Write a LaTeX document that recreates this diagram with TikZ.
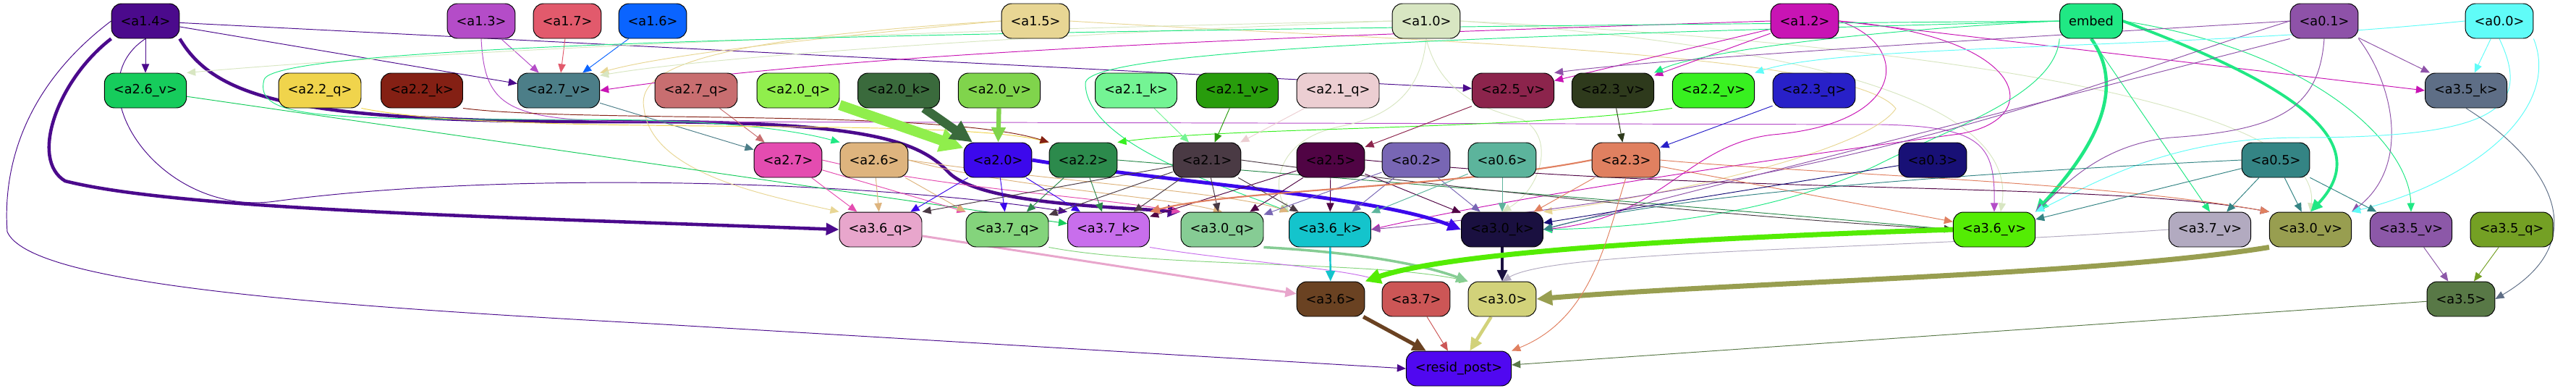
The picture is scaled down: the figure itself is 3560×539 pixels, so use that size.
\documentclass[tikz,border=0pt]{standalone}
\usepackage{fontspec}
\setmainfont{DejaVu Sans}
\usepackage{tikz}
\usetikzlibrary{arrows.meta}
\pgfdeclarelayer{edges}
\pgfsetlayers{edges,main}

\definecolor{c14}{HTML}{4B0A8C}
\definecolor{c13}{HTML}{B44CC8}
\definecolor{c17}{HTML}{E25A6C}
\definecolor{c16}{HTML}{0A64FF}
\definecolor{c15}{HTML}{E8D694}
\definecolor{c10}{HTML}{D8E6C2}
\definecolor{c12}{HTML}{C814B4}
\definecolor{cem}{HTML}{20E884}
\definecolor{c01}{HTML}{8E52A8}
\definecolor{c00}{HTML}{60FCF8}
\definecolor{c26v}{HTML}{16CC5C}
\definecolor{c22q}{HTML}{F0D44C}
\definecolor{c22k}{HTML}{842014}
\definecolor{c27v}{HTML}{4C7E88}
\definecolor{c27q}{HTML}{C86E70}
\definecolor{c20q}{HTML}{90EE4C}
\definecolor{c20k}{HTML}{3A6A3C}
\definecolor{c20v}{HTML}{80D44C}
\definecolor{c21k}{HTML}{74F494}
\definecolor{c21v}{HTML}{289C0C}
\definecolor{c21q}{HTML}{ECCED2}
\definecolor{c25v}{HTML}{8C244C}
\definecolor{c23v}{HTML}{2E3A1C}
\definecolor{c22v}{HTML}{38F020}
\definecolor{c23q}{HTML}{2820C8}
\definecolor{c35k}{HTML}{5E6E86}
\definecolor{c27}{HTML}{E44CB0}
\definecolor{c26}{HTML}{DEB47E}
\definecolor{c20}{HTML}{3C08EC}
\definecolor{c22}{HTML}{2C8A4C}
\definecolor{c21}{HTML}{4A3A44}
\definecolor{c25}{HTML}{500444}
\definecolor{c02}{HTML}{7866B4}
\definecolor{c06}{HTML}{5CB49C}
\definecolor{c23}{HTML}{E08060}
\definecolor{c03}{HTML}{181076}
\definecolor{c05}{HTML}{348484}
\definecolor{c36q}{HTML}{E8A6CC}
\definecolor{c37q}{HTML}{84D47C}
\definecolor{c37k}{HTML}{C86EEC}
\definecolor{c30q}{HTML}{86CC94}
\definecolor{c36k}{HTML}{14C4CC}
\definecolor{c30k}{HTML}{1A1040}
\definecolor{c36v}{HTML}{54EC04}
\definecolor{c37v}{HTML}{B2AAC0}
\definecolor{c30v}{HTML}{989E50}
\definecolor{c35v}{HTML}{8C58A8}
\definecolor{c35q}{HTML}{74A024}
\definecolor{c36}{HTML}{6A4222}
\definecolor{c37}{HTML}{CC5656}
\definecolor{c30}{HTML}{D2D27A}
\definecolor{c35}{HTML}{587846}
\definecolor{cres}{HTML}{5008F0}

\begin{document}
\begin{tikzpicture}[x=0.02cm, y=-0.02cm,
    tok/.style={draw, rounded corners=0.28cm, font=\fontsize{10.1}{12}\selectfont,
      minimum height=0.96cm, inner xsep=0.25cm, line width=0.55pt, text=black},
    arr/.style={-{Triangle[length=6pt 1.6, width=5pt 1.6]}, line width=0.55pt},
  ]
    \useasboundingbox (0,0) rectangle (3560,539);

    % Level 1
    \node[tok, fill=c14] (a14) at (201, 29) {<a1.4>};
    \node[tok, fill=c13] (a13) at (665, 29) {<a1.3>};
    \node[tok, fill=c17] (a17) at (784, 29) {<a1.7>};
    \node[tok, fill=c16] (a16) at (902, 29) {<a1.6>};
    \node[tok, fill=c15] (a15) at (1431, 29) {<a1.5>};
    \node[tok, fill=c10] (a10) at (1971, 29) {<a1.0>};
    \node[tok, fill=c12] (a12) at (2494, 29) {<a1.2>};
    \node[tok, fill=cem] (emb) at (2890, 29) {embed};
    \node[tok, fill=c01] (a01) at (3212, 29) {<a0.1>};
    \node[tok, fill=c00] (a00) at (3454, 29) {<a0.0>};

    % Level 2
    \node[tok, fill=c26v] (a26v) at (201, 125) {<a2.6\_v>};
    \node[tok, fill=c22q] (a22q) at (442, 125) {<a2.2\_q>};
    \node[tok, fill=c22k] (a22k) at (583, 125) {<a2.2\_k>};
    \node[tok, fill=c27v] (a27v) at (772, 125) {<a2.7\_v>};
    \node[tok, fill=c27q] (a27q) at (962, 125) {<a2.7\_q>};
    \node[tok, fill=c20q] (a20q) at (1103, 125) {<a2.0\_q>};
    \node[tok, fill=c20k] (a20k) at (1242, 125) {<a2.0\_k>};
    \node[tok, fill=c20v] (a20v) at (1381, 125) {<a2.0\_v>};
    \node[tok, fill=c21k] (a21k) at (1570, 125) {<a2.1\_k>};
    \node[tok, fill=c21v] (a21v) at (1710, 125) {<a2.1\_v>};
    \node[tok, fill=c21q] (a21q) at (1849, 125) {<a2.1\_q>};
    \node[tok, fill=c25v] (a25v) at (2091, 125) {<a2.5\_v>};
    \node[tok, fill=c23v] (a23v) at (2229, 125) {<a2.3\_v>};
    \node[tok, fill=c22v] (a22v) at (2368, 125) {<a2.2\_v>};
    \node[tok, fill=c23q] (a23q) at (2507, 125) {<a2.3\_q>};
    \node[tok, fill=c35k] (a35k) at (3408, 125) {<a3.5\_k>};

    % Level 3
    \node[tok, fill=c27] (a27) at (1089, 221) {<a2.7>};
    \node[tok, fill=c26] (a26) at (1208, 221) {<a2.6>};
    \node[tok, fill=c20] (a20) at (1379, 221) {<a2.0>};
    \node[tok, fill=c22] (a22) at (1497, 221) {<a2.2>};
    \node[tok, fill=c21] (a21) at (1668, 221) {<a2.1>};
    \node[tok, fill=c25] (a25) at (1839, 221) {<a2.5>};
    \node[tok, fill=c02] (a02) at (1957, 221) {<a0.2>};
    \node[tok, fill=c06] (a06) at (2076, 221) {<a0.6>};
    \node[tok, fill=c23] (a23) at (2247, 221) {<a2.3>};
    \node[tok, fill=c03] (a03) at (2671, 221) {<a0.3>};
    \node[tok, fill=c05] (a05) at (3145, 221) {<a0.5>};

    % Level 4
    \node[tok, fill=c36q] (a36q) at (1217, 317) {<a3.6\_q>};
    \node[tok, fill=c37q] (a37q) at (1392, 317) {<a3.7\_q>};
    \node[tok, fill=c37k] (a37k) at (1532, 317) {<a3.7\_k>};
    \node[tok, fill=c30q] (a30q) at (1689, 317) {<a3.0\_q>};
    \node[tok, fill=c36k] (a36k) at (1838, 317) {<a3.6\_k>};
    \node[tok, fill=c30k] (a30k) at (2076, 317) {<a3.0\_k>};
    \node[tok, fill=c36v] (a36v) at (2756, 317) {<a3.6\_v>};
    \node[tok, fill=c37v] (a37v) at (3054, 317) {<a3.7\_v>};
    \node[tok, fill=c30v] (a30v) at (3193, 317) {<a3.0\_v>};
    \node[tok, fill=c35v] (a35v) at (3332, 317) {<a3.5\_v>};
    \node[tok, fill=c35q] (a35q) at (3471, 317) {<a3.5\_q>};

    % Level 5 and output
    \node[tok, fill=c36] (a36) at (1839, 413) {<a3.6>};
    \node[tok, fill=c37] (a37) at (1957, 413) {<a3.7>};
    \node[tok, fill=c30] (a30) at (2076, 413) {<a3.0>};
    \node[tok, fill=c35] (a35) at (3401, 413) {<a3.5>};
    \node[tok, fill=cres] (res) at (2016, 509) {<resid\_post>};

    \begin{pgfonlayer}{edges}
    % Arrows from level 1
    \draw[arr, c14] (a14) -- (a26v);
    \draw[arr, c14] (a14) -- (a27v);
    \draw[arr, c14] (a14) -- (a25v);
    \draw[arr, c14, line width=2.6pt] (a14.south east) .. controls (300,140) and (420,170) .. (880,168) .. controls (1200,168) and (1270,195) .. (1310,237) .. controls (1350,280) and (1520,285) .. (a30q.north west);
    \draw[arr, c14, line width=2.6pt] (a14.south west) .. controls (80,110) and (40,220) .. (90,250) .. controls (250,290) and (700,300) .. (a36q.west);
    \draw[arr, c14] (a14.south) .. controls (100,120) and (220,300) .. (380,278) .. controls (700,235) and (1200,250) .. (a37k.north west);
    \draw[arr, c14] (a14.west) .. controls (20,130) and (5,250) .. (10,320) .. controls (40,390) and (400,420) .. (900,447) -- (res.west);
    \draw[arr, c13] (a13) -- (a27v);
    \draw[arr, c17] (a17) -- (a27v);
    \draw[arr, c16] (a16) -- (a27v);
    \draw[arr, c13] (a13.south) .. controls (670,150) and (700,168) .. (900,168) -- (2600,172) .. controls (2740,175) and (2757,200) .. (a36v.north);
    \draw[arr, c15] (a15.west) .. controls (1150,50) and (920,75) .. (a27v.north east);
    \draw[arr, c15] (a15.west) .. controls (950,55) and (880,100) .. (890,150) .. controls (900,240) and (1060,270) .. (a36q.north west);
    \draw[arr, c15] (a15.east) .. controls (1900,55) and (2560,70) .. (2620,150) .. controls (2580,210) and (2300,270) .. (a30k.north east);
    \draw[arr, c10] (a10.west) .. controls (1300,40) and (600,70) .. (a26v.north east);
    \draw[arr, c10] (a10.west) .. controls (1500,45) and (1000,75) .. (a27v.20);
    \draw[arr, c10] (a10.south) .. controls (1965,120) and (1930,160) .. (1850,175) .. controls (1760,195) and (1760,260) .. (a36k.north west);
    \draw[arr, c10] (a10.south) .. controls (1990,130) and (2050,150) .. (2104,165) .. controls (2150,190) and (2130,260) .. (a30k.north);
    \draw[arr, c10] (a10.east) .. controls (2450,60) and (2790,130) .. (a36v.70);
    \draw[arr, c10] (a10.east) .. controls (2650,60) and (3210,140) .. (a30v.north);
    \draw[arr, c12] (a12) -- (a25v);
    \draw[arr, c12] (a12) -- (a23v);
    \draw[arr, c12] (a12.east) -- (a35k.west);
    \draw[arr, c12] (a12.west) .. controls (1800,50) and (1200,70) .. (a27v.east);
    \draw[arr, c12] (a12.east) .. controls (2640,60) and (2640,170) .. (2450,186) .. controls (2330,200) and (2300,300) .. (a30k.east);
    \draw[arr, c12] (a12.east) .. controls (2810,50) and (2830,170) .. (2700,186) .. controls (2450,220) and (2100,270) .. (a36k.east);
    \draw[arr, cem] (emb.west) .. controls (1500,40) and (380,55) .. (365,110) .. controls (350,165) and (450,165) .. (800,165) .. controls (1000,165) and (1100,180) .. (a26.north west);
    \draw[arr, cem] (emb.west) .. controls (2300,45) and (1500,60) .. (1500,115) .. controls (1500,200) and (1700,260) .. (a36k.north west);
    \draw[arr, cem] (emb.south west) .. controls (2840,130) and (2700,175) .. (2600,225) .. controls (2450,300) and (2250,315) .. (a30k.east);
    \draw[arr, cem] (emb.west) .. controls (2600,40) and (2350,70) .. (a23v.north east);
    \draw[arr, cem, line width=2.6pt] (emb.south) .. controls (2945,130) and (2880,220) .. (a36v.north east);
    \draw[arr, cem] (emb.south) -- (a37v.north);
    \draw[arr, cem, line width=2.2pt] (emb.east) .. controls (3150,110) and (3290,190) .. (a30v.north);
    \draw[arr, cem] (emb.east) .. controls (3200,70) and (3330,200) .. (a35v.north);
    \draw[arr, c01] (a01) -- (a35k);
    \draw[arr, c01] (a01.west) .. controls (2900,45) and (2300,80) .. (a25v.north east);
    \draw[arr, c01] (a01.south west) -- (a30k.east);
    \draw[arr, c01] (a01.west) .. controls (2900,110) and (2600,250) .. (a36k.east);
    \draw[arr, c01] (a01.south) .. controls (3205,150) and (3150,180) .. (3000,190) .. controls (2900,200) and (2850,260) .. (a36v.north east);
    \draw[arr, c01] (a01.south east) .. controls (3310,120) and (3330,230) .. (a30v.north east);
    \draw[arr, c00] (a00) -- (a35k);
    \draw[arr, c00] (a00.west) .. controls (3000,70) and (2550,60) .. (a22v.north east);
    \draw[arr, c00] (a00.south) .. controls (3500,150) and (3450,190) .. (3180,190) .. controls (3000,190) and (2900,250) .. (a36v.north east);
    \draw[arr, c00] (a00.south east) .. controls (3540,150) and (3420,250) .. (a30v.north east);

    % Arrows from level 2
    \draw[arr, c27v] (a27v) -- (a27);
    \draw[arr, c27q] (a27q) -- (a27);
    \draw[arr, c26v] (a26v) -- (a37k);
    \draw[arr, c22q] (a22q.south east) .. controls (700,190) and (1300,160) .. (a22.north west);
    \draw[arr, c22k] (a22k.south east) .. controls (800,170) and (1300,150) .. (a22.north west);
    \draw[arr, c22v] (a22v.south west) .. controls (2100,180) and (1700,175) .. (a22.north east);
    \draw[arr, c20q, line width=8pt] (a20q) -- (a20);
    \draw[arr, c20k, line width=7pt] (a20k) -- (a20);
    \draw[arr, c20v, line width=3.6pt] (a20v) -- (a20);
    \draw[arr, c21k] (a21k) -- (a21);
    \draw[arr, c21v] (a21v) -- (a21);
    \draw[arr, c21q] (a21q) -- (a21);
    \draw[arr, c25v] (a25v) -- (a25);
    \draw[arr, c23v] (a23v) -- (a23);
    \draw[arr, c23q] (a23q) -- (a23);
    \draw[arr, c35k] (a35k.south) .. controls (3520,220) and (3590,330) .. (a35.east);

    % Arrows from level 3
    \draw[arr, c27] (a27) -- (a36q);
    \draw[arr, c27] (a27) -- (a37q.north west);
    \draw[arr, c27] (a27.east) .. controls (1300,260) and (1500,270) .. (a30q.north west);
    \draw[arr, c26] (a26) -- (a36q);
    \draw[arr, c26] (a26) -- (a37q.north west);
    \draw[arr, c26] (a26.east) .. controls (1400,260) and (1600,270) .. (a30q.north);
    \draw[arr, c26] (a26.east) .. controls (1450,250) and (1700,265) .. (a36k.north west);
    \draw[arr, c20] (a20) -- (a36q);
    \draw[arr, c20] (a20) -- (a37q);
    \draw[arr, c20] (a20) -- (a37k);
    \draw[arr, c20, line width=2.8pt] (a20.east) .. controls (1600,250) and (1900,270) .. (a30k.west);
    \draw[arr, c22] (a22) -- (a37q);
    \draw[arr, c22] (a22) -- (a37k);
    \draw[arr, c22] (a22.east) .. controls (1900,250) and (2400,290) .. (a36v.west);
    \draw[arr, c21] (a21) -- (a36q.north east);
    \draw[arr, c21] (a21) -- (a37q);
    \draw[arr, c21] (a21) -- (a37k);
    \draw[arr, c21] (a21) -- (a30q);
    \draw[arr, c21] (a21) -- (a36k);
    \draw[arr, c21] (a21.east) .. controls (2000,260) and (2400,300) .. (a36v.west);
    \draw[arr, c25] (a25) -- (a36k);
    \draw[arr, c25] (a25) -- (a30k);
    \draw[arr, c25] (a25) -- (a37k);
    \draw[arr, c25] (a25) -- (a30q);
    \draw[arr, c25] (a25.east) .. controls (2400,270) and (2900,250) .. (a30v.north west);
    \draw[arr, c02] (a02) -- (a36k);
    \draw[arr, c02] (a02) -- (a30k);
    \draw[arr, c02] (a02) -- (a30q);
    \draw[arr, c06] (a06) -- (a36k);
    \draw[arr, c06] (a06) -- (a30k);
    \draw[arr, c23] (a23) -- (a30k);
    \draw[arr, c23] (a23) -- (a36v);
    \draw[arr, c23] (a23.east) .. controls (2500,240) and (2900,250) .. (a30v.north west);
    \draw[arr, c23, line width=1.2pt] (a23.west) .. controls (2000,260) and (1700,262) .. (a37k.north east);
    \draw[arr, c03] (a03) -- (a30k);
    \draw[arr, c05] (a05) -- (a37v);
    \draw[arr, c05] (a05) -- (a30v);
    \draw[arr, c05] (a05) -- (a35v);
    \draw[arr, c05] (a05) -- (a36v);
    \draw[arr, c05] (a05.west) .. controls (2700,240) and (2300,270) .. (a30k.east);

    % Arrows from level 4
    \draw[arr, c36q, line width=1.7pt] (a36q) -- (a36);
    \draw[arr, c37q] (a37q.south east) .. controls (1600,370) and (1900,360) .. (a30.north west);
    \draw[arr, c37k] (a37k.south east) .. controls (1700,360) and (1850,370) .. (a37.north west);
    \draw[arr, c30q, line width=2pt] (a30q.south east) .. controls (1900,350) and (1980,370) .. (a30.north west);
    \draw[arr, c36k, line width=1.4pt] (a36k) -- (a36);
    \draw[arr, c30k, line width=1.8pt] (a30k) -- (a30);
    \draw[arr, c36v, line width=4pt] (a36v.west) .. controls (2300,330) and (2000,350) .. (a36.north east);
    \draw[arr, c30v, line width=4pt] (a30v.south west) .. controls (2900,380) and (2400,390) .. (a30.east);
    \draw[arr, c37v] (a37v.west) .. controls (2600,345) and (2150,345) .. (a30.north);
    \draw[arr, c35v] (a35v) -- (a35);
    \draw[arr, c35q] (a35q) -- (a35);

    % Output
    \draw[arr, c36, line width=3pt] (a36) -- (res);
    \draw[arr, c37] (a37) -- (res);
    \draw[arr, c30, line width=2.6pt] (a30) -- (res);
    \draw[arr, c35] (a35) -- (res);
    \draw[arr, c23] (a23.south) .. controls (2220,330) and (2200,440) .. (res.north east);
    \end{pgfonlayer}
  \end{tikzpicture}
\end{document}
